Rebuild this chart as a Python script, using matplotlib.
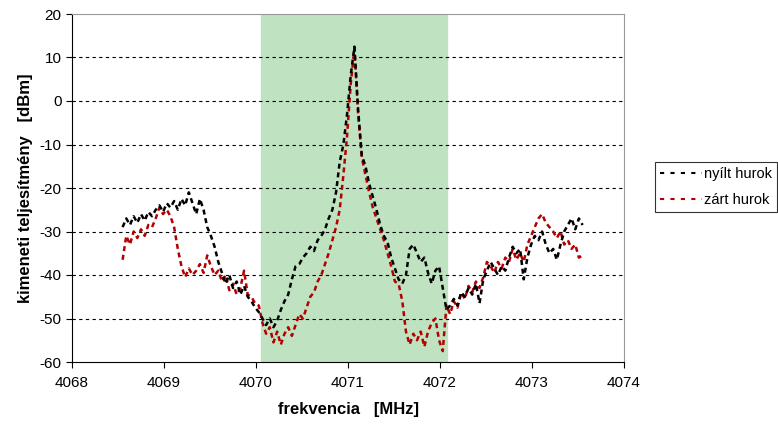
import numpy as np
import matplotlib
matplotlib.use("Agg")
import matplotlib.pyplot as plt

plt.rcParams['font.family'] = ['Liberation Sans', 'DejaVu Sans']
plt.rcParams['axes.unicode_minus'] = False

# frequency sweep (MHz), same grid for both curves
freq = np.round(np.linspace(4068.55, 4073.55, 126), 2)

# open loop (nyílt hurok), dBm
open_loop = [
    -29, -27, -28.5, -26.5, -28, -26, -27.5, -25.5, -26.5, -25,
    -24, -25.5, -23.5, -24.5, -23, -25, -22.5, -24, -21, -23.5,
    -26, -22.5, -25, -29, -31, -33.5, -37, -39.5, -42, -40,
    -43, -41.5, -44.5, -42.5, -45, -46, -47.5, -48.5, -50, -51.5,
    -50, -52, -50.5, -48, -46, -44.5, -41, -38, -37.5, -36,
    -35, -33.5, -34.5, -32, -31, -29.5, -27, -25, -21, -14,
    -10, -3, 6, 12.5, -2, -12.5, -15, -19, -22, -25,
    -28.5, -31, -32.5, -36, -38.5, -41, -42, -40, -34, -33,
    -35, -37, -36, -39.5, -42, -39, -38, -43, -48, -47,
    -45.5, -47, -44, -45, -43, -44.5, -42, -46.5, -41, -39,
    -37, -38.5, -40, -38, -39, -36, -33.5, -35, -34, -41,
    -36, -33, -31, -32, -30, -33, -35, -34, -36.5, -33,
    -30, -28.5, -27, -29.5, -27, -28.5,
]

# closed loop (zárt hurok), dBm
closed_loop = [
    -36.5, -31, -33, -30, -31.5, -29.5, -31, -28.5, -29, -27,
    -24.5, -26, -25, -26.5, -29, -34, -38, -40.5, -38.5, -40,
    -39, -37.5, -39.5, -35.5, -38, -40, -39, -41.5, -40, -43.5,
    -42, -44.5, -43, -39, -44.5, -45, -46.5, -47, -51, -53.5,
    -52, -55.5, -53, -56, -53.5, -52, -54, -51.5, -49, -50,
    -47.5, -45, -44, -41.5, -40, -37.5, -35, -32, -29, -25,
    -17, -8, 4, 12, -3, -13, -17, -21, -24.5, -27,
    -29.5, -32, -35, -38, -41.5, -42, -46, -53, -56, -53.5,
    -55, -53, -56.5, -53, -51, -50, -55, -57.5, -47, -49,
    -46, -47.5, -44, -45.5, -42.5, -44, -41.5, -43, -40.5, -37,
    -38, -39.5, -37, -38.5, -36, -37, -34, -36.5, -35, -37,
    -33, -31, -29, -27, -26, -28, -29, -30, -31.5, -30,
    -33, -32, -34, -33, -36, -35.5,
]

band = (4070.05, 4072.08)
yticks = [20, 10, 0, -10, -20, -30, -40, -50, -60]

fig = plt.figure(figsize=(7.78, 4.24), dpi=100)
ax = fig.add_axes([72 / 778, 1 - 362 / 424, 552 / 778, 348 / 424])

ax.axvspan(band[0], band[1], color='#bfe3c1', zorder=0)
for y in yticks[1:-1]:
    ax.axhline(y, color='black', linestyle=(0, (3, 3)), linewidth=0.8, zorder=1)

ax.plot(freq, open_loop, color='black', linestyle=(0, (2, 1.5)), linewidth=1.8,
        label='nyílt hurok', zorder=3)
ax.plot(freq, closed_loop, color='#b40000', linestyle=(0, (2, 1.5)), linewidth=1.8,
        label='zárt hurok', zorder=2)

ax.set_xlim(4068, 4074)
ax.set_ylim(-60, 20)
ax.set_xticks([4068, 4069, 4070, 4071, 4072, 4073, 4074])
ax.set_yticks(yticks)
ax.tick_params(direction='out', length=4, labelsize=11, colors='black')
ax.tick_params(axis='x', pad=6)

for side in ['top', 'right']:
    ax.spines[side].set_color('#999999')
for side in ['left', 'bottom']:
    ax.spines[side].set_color('black')

ax.set_xlabel('frekvencia   [MHz]', fontsize=12, fontweight='bold', labelpad=9)
ax.set_ylabel('kimeneti teljesítmény   [dBm]', fontsize=12, fontweight='bold', labelpad=5)

leg = fig.legend(loc='upper left', bbox_to_anchor=(655 / 778, 1 - 162 / 424),
                 fontsize=10.5, frameon=True, fancybox=False, edgecolor='black',
                 handlelength=2.9, handletextpad=0.1, borderpad=0.35, labelspacing=0.8,
                 borderaxespad=0)
leg.get_frame().set_linewidth(0.8)
for h in leg.get_lines():
    h.set_linewidth(1.5)
    h.set_linestyle((0, (2, 3)))

fig.savefig('out.png', dpi=100)
